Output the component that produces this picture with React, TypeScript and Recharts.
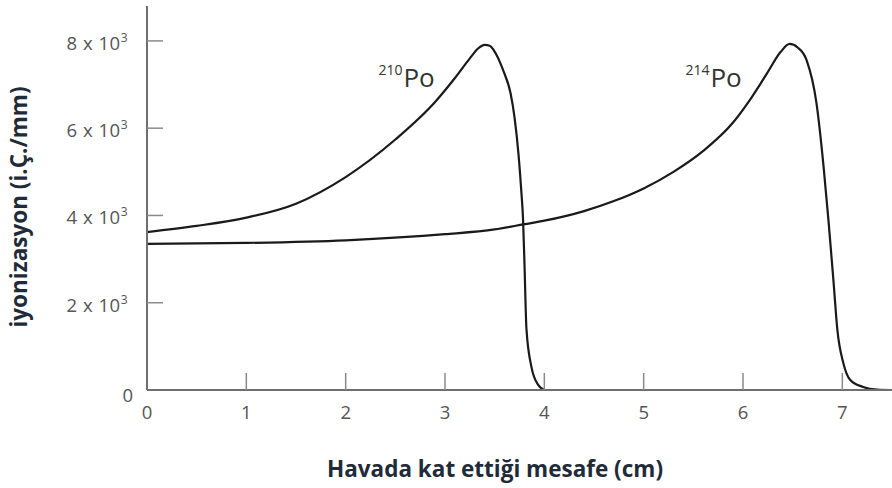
import { LineChart, Line, XAxis, YAxis, ReferenceDot, Label } from "recharts";

// 210Po Bragg curve (cm, ion pairs / mm)
const po210X = [0, 0.5, 1, 1.5, 2, 2.5, 2.9, 3.1, 3.25, 3.33, 3.4, 3.45, 3.49, 3.59, 3.66, 3.7, 3.74, 3.77, 3.785, 3.8, 3.82, 3.87, 3.94, 4];
const po210Y = [3620, 3760, 3950, 4270, 4880, 5740, 6600, 7150, 7600, 7820, 7910, 7890, 7790, 7300, 6800, 6250, 5400, 4500, 3950, 2900, 1400, 530, 110, 0];

// 214Po Bragg curve
const po214X = [0, 1, 2, 3, 3.5, 3.8, 4, 4.4, 4.7, 5, 5.3, 5.6, 5.9, 6.07, 6.24, 6.38, 6.47, 6.55, 6.64, 6.74, 6.81, 6.86, 6.91, 6.95, 7.01, 7.08, 7.21, 7.35, 7.5];
const po214Y = [3350, 3370, 3430, 3570, 3680, 3800, 3880, 4100, 4330, 4620, 5000, 5480, 6130, 6650, 7250, 7750, 7930, 7850, 7560, 6570, 5150, 3900, 2520, 1380, 620, 230, 70, 10, 0];

const xTicks = [0, 1, 2, 3, 4, 5, 6, 7];
const yTicks = [0, 2000, 4000, 6000, 8000];

const isoNames = ["210", "214"];
const isoX = [2.33, 5.42];
const isoY = [6940, 6940];

const xTitle = "Havada kat ettiği mesafe (cm)";
const yTitle = "iyonizasyon (i.Ç./mm)";

const po210 = po210X.map((x, i) => ({ x, y: po210Y[i] }));
const po214 = po214X.map((x, i) => ({ x, y: po214Y[i] }));

const axisGray = "#6f6f6f";
const tickGray = "#8a8a8a";
const textGray = "#555";
const titleColor = "#1f2b38";
const font = "'Open Sans', sans-serif";

function YTick({ x, y, payload }: any) {
  const v = payload.value as number;
  if (v === 0) {
    return (
      <text x={x - 14} y={y + 12} textAnchor="end" fill={textGray} fontSize={18.5} fontFamily={font}>
        0
      </text>
    );
  }
  return (
    <g>
      <line x1={x} x2={x + 16} y1={y} y2={y} stroke={tickGray} strokeWidth={1.5} />
      <text x={x - 19} y={y + 9} textAnchor="end" fill={textGray} fontSize={18.5} fontFamily={font} letterSpacing={0.5}>
        {`${v / 1000} x 10`}
        <tspan fontSize={12} dy={-8}>3</tspan>
      </text>
    </g>
  );
}

function XTick({ x, y, payload }: any) {
  const v = payload.value as number;
  return (
    <g>
      {v !== 0 && <line x1={x} x2={x} y1={y - 17} y2={y} stroke={tickGray} strokeWidth={1.5} />}
      <text x={x} y={y + 29} textAnchor="middle" fill={textGray} fontSize={18.5} fontFamily={font}>
        {v}
      </text>
    </g>
  );
}

function YTitle() {
  return (
    <text
      x={27}
      y={207}
      transform="rotate(-90, 27, 207)"
      textAnchor="middle"
      fill={titleColor}
      fontSize={22.5}
      fontWeight={700}
      fontFamily={font}
    >
      {yTitle}
    </text>
  );
}

function XTitle() {
  return (
    <text x={495} y={477} textAnchor="middle" fill={titleColor} fontSize={22.5} fontWeight={700} fontFamily={font}>
      {xTitle}
    </text>
  );
}

function isoLabel(iso: string) {
  return (props: any) => {
    const { x, y } = props.viewBox;
    return (
      <text x={x} y={y} fill="#333" fontFamily={font}>
        <tspan fontSize={14} dy={-12}>{iso}</tspan>
        <tspan fontSize={26} dy={12} dx={1}>Po</tspan>
      </text>
    );
  };
}

export default function App() {
  return (
    <div style={{ position: "absolute", left: 0, top: 0, width: 892, height: 488, background: "#fff" }}>
      <LineChart width={892} height={488} margin={{ top: 6, right: 0, bottom: 0, left: 0 }}>
        <XAxis
          dataKey="x"
          type="number"
          domain={[0, 7.5]}
          ticks={xTicks}
          height={98}
          tickSize={0}
          tickMargin={0}
          tickLine={false}
          axisLine={{ stroke: axisGray, strokeWidth: 2 }}
          tick={<XTick />}
          allowDataOverflow
        >
          <Label content={<XTitle />} />
        </XAxis>
        <YAxis
          type="number"
          domain={[0, 8800]}
          ticks={yTicks}
          width={147}
          tickSize={0}
          tickMargin={0}
          tickLine={false}
          axisLine={{ stroke: axisGray, strokeWidth: 2 }}
          tick={<YTick />}
          allowDataOverflow
        >
          <Label content={<YTitle />} />
        </YAxis>
        <Line
          data={po210}
          dataKey="y"
          type="monotone"
          stroke="#1a1a1a"
          strokeWidth={2.2}
          dot={false}
          activeDot={false}
          isAnimationActive={false}
        />
        <Line
          data={po214}
          dataKey="y"
          type="monotone"
          stroke="#1a1a1a"
          strokeWidth={2.2}
          dot={false}
          activeDot={false}
          isAnimationActive={false}
        />
        {isoNames.map((iso, i) => (
          <ReferenceDot key={iso} x={isoX[i]} y={isoY[i]} r={0} fill="none" stroke="none" label={isoLabel(iso)} />
        ))}
      </LineChart>
    </div>
  );
}
